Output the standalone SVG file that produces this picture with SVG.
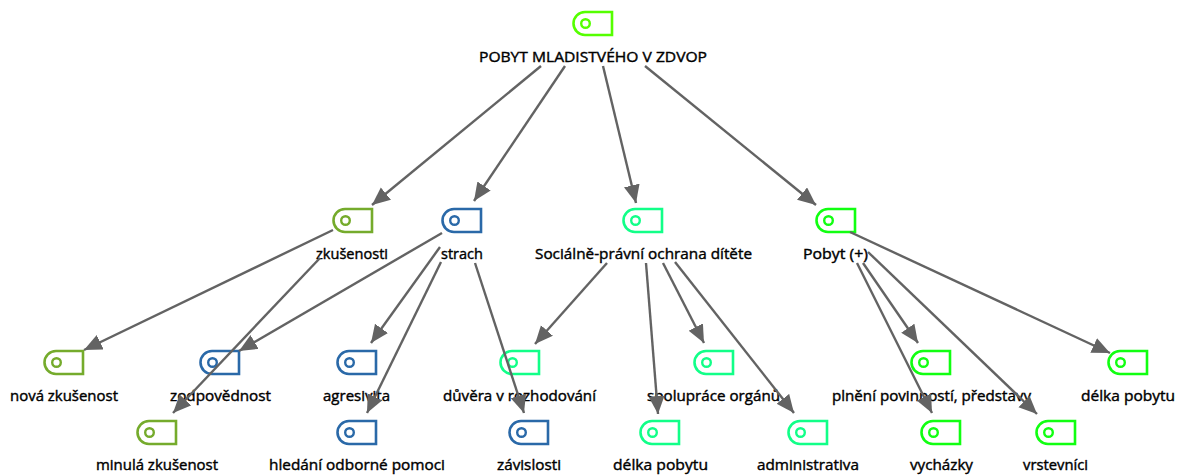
<svg xmlns="http://www.w3.org/2000/svg" width="1178" height="475" viewBox="0 0 1178 475">
<style>
.ic{fill:#fff;stroke-width:2.6}
.dot{fill:none;stroke-width:2.4}
.t{font-family:"Open Sans","Noto Sans",sans-serif;font-size:14.600px;fill:#000;stroke:#000;stroke-width:.4}
.e{stroke:#636363;stroke-width:2.400;fill:none;marker-end:url(#a)}
.g1{stroke:#5f0}.g2{stroke:#75ab2c}.g3{stroke:#2a69a8}.g4{stroke:#1f8}.g5{stroke:#1f1}
</style>
<defs>
<marker id="a" markerUnits="userSpaceOnUse" markerWidth="22" markerHeight="18" refX="18" refY="8" orient="auto"><path d="M0 0L18 8L0 16Z" fill="#636363"/></marker>
<symbol id="n" overflow="visible"><path d="M12 1H39V24H12A11.500 11.500 0 0 1 12 1Z" class="ic"/><circle cx="12.500" cy="12.500" r="4.300" class="dot"/></symbol>
</defs>
<g id="n0"><use href="#n" x="573" y="11" class="g1"/><text class="t" x="479" y="62" textLength="228" lengthAdjust="spacingAndGlyphs">POBYT MLADISTVÉHO V ZDVOP</text></g>
<g id="n1"><use href="#n" x="333" y="208" class="g2"/><text class="t" x="316" y="259" textLength="72" lengthAdjust="spacingAndGlyphs">zkušenosti</text></g>
<g id="n2"><use href="#n" x="442" y="208" class="g3"/><text class="t" x="441" y="259" textLength="42" lengthAdjust="spacingAndGlyphs">strach</text></g>
<g id="n3"><use href="#n" x="623" y="208" class="g4"/><text class="t" x="535" y="259" textLength="217" lengthAdjust="spacingAndGlyphs">Sociálně-právní ochrana dítěte</text></g>
<g id="n4"><use href="#n" x="816" y="208" class="g5"/><text class="t" x="803" y="259" textLength="65" lengthAdjust="spacingAndGlyphs">Pobyt (+)</text></g>
<g id="n5"><use href="#n" x="44" y="350" class="g2"/><text class="t" x="10" y="401" textLength="108" lengthAdjust="spacingAndGlyphs">nová zkušenost</text></g>
<g id="n6"><use href="#n" x="200" y="350" class="g3"/><text class="t" x="170" y="401" textLength="101" lengthAdjust="spacingAndGlyphs">zodpovědnost</text></g>
<g id="n7"><use href="#n" x="337" y="350" class="g3"/><text class="t" x="323" y="401" textLength="67" lengthAdjust="spacingAndGlyphs">agresivita</text></g>
<g id="n8"><use href="#n" x="500" y="350" class="g4"/><text class="t" x="443" y="401" textLength="153" lengthAdjust="spacingAndGlyphs">důvěra v rozhodování</text></g>
<g id="n9"><use href="#n" x="694" y="350" class="g4"/><text class="t" x="647" y="401" textLength="133" lengthAdjust="spacingAndGlyphs">spolupráce orgánů</text></g>
<g id="n10"><use href="#n" x="911" y="350" class="g5"/><text class="t" x="832" y="401" textLength="199" lengthAdjust="spacingAndGlyphs">plnění povinností, představy</text></g>
<g id="n11"><use href="#n" x="1108" y="350" class="g5"/><text class="t" x="1081" y="401" textLength="94" lengthAdjust="spacingAndGlyphs">délka pobytu</text></g>
<g id="n12"><use href="#n" x="137" y="420" class="g2"/><text class="t" x="96" y="470" textLength="122" lengthAdjust="spacingAndGlyphs">minulá zkušenost</text></g>
<g id="n13"><use href="#n" x="337" y="420" class="g3"/><text class="t" x="269" y="470" textLength="176" lengthAdjust="spacingAndGlyphs">hledání odborné pomoci</text></g>
<g id="n14"><use href="#n" x="509" y="420" class="g3"/><text class="t" x="497" y="470" textLength="64" lengthAdjust="spacingAndGlyphs">závislosti</text></g>
<g id="n15"><use href="#n" x="640" y="420" class="g4"/><text class="t" x="613" y="470" textLength="95" lengthAdjust="spacingAndGlyphs">délka pobytu</text></g>
<g id="n16"><use href="#n" x="788" y="420" class="g4"/><text class="t" x="757" y="470" textLength="102" lengthAdjust="spacingAndGlyphs">administrativa</text></g>
<g id="n17"><use href="#n" x="921" y="420" class="g5"/><text class="t" x="910" y="470" textLength="63" lengthAdjust="spacingAndGlyphs">vycházky</text></g>
<g id="n18"><use href="#n" x="1036" y="420" class="g5"/><text class="t" x="1023" y="470" textLength="65" lengthAdjust="spacingAndGlyphs">vrstevníci</text></g>
<g id="connectors">
<path class="e" d="M541 66L372 205"/>
<path class="e" d="M565 66L474 201"/>
<path class="e" d="M603 66L636 203"/>
<path class="e" d="M645 66L816 205"/>
<path class="e" d="M333 230L84 350"/>
<path class="e" d="M320 258L173 413"/>
<path class="e" d="M442 233L239 351"/>
<path class="e" d="M440 247L371 343"/>
<path class="e" d="M441 262L367 413"/>
<path class="e" d="M475 263L524 413"/>
<path class="e" d="M607 263L535 344"/>
<path class="e" d="M646 263L658 414"/>
<path class="e" d="M663 263L704 343"/>
<path class="e" d="M675 262L794 413"/>
<path class="e" d="M863 263L918 343"/>
<path class="e" d="M857 263L932 413"/>
<path class="e" d="M868 252L1037 414"/>
<path class="e" d="M850 232L1110 353"/>
</g>
</svg>
